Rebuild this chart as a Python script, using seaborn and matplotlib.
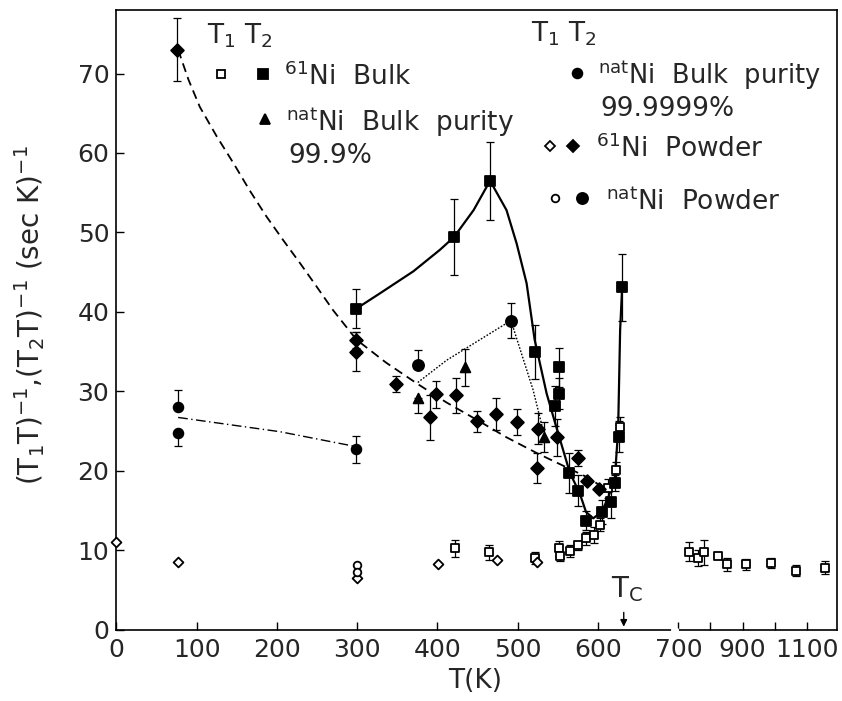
import numpy as np
import pandas as pd
import matplotlib
matplotlib.use("Agg")
import matplotlib.pyplot as plt
import seaborn as sns

# ---------------- data ----------------
# 61Ni bulk, T1 (open squares)
ni61_bulk_t1_T = [421.8, 464.5, 521.3, 551.7, 552.6, 565.0, 574.6, 584.9, 594.9, 602.4,
                  612.3, 621.9, 626.9, 734, 762, 781, 824, 852, 910, 988, 1065, 1158]
ni61_bulk_t1_y = [10.2, 9.7, 9.0, 10.2, 9.2, 9.9, 10.6, 11.5, 11.9, 13.2,
                  17.8, 20.1, 25.5, 9.8, 9.0, 9.7, 9.3, 8.2, 8.2, 8.4, 7.4, 7.8]
ni61_bulk_t1_err = [1.1, 1.0, 0.7, 1.0, 0.6, 0.8, 0.6, 0.8, 1.0, 0.8,
                    1.2, 1.0, 1.2, 1.2, 1.0, 1.6, 0.0, 0.8, 0.7, 0.6, 0.7, 0.8]

# 61Ni bulk, T2 (filled squares)
ni61_bulk_t2_T = [299.0, 420.5, 465.5, 521.3, 551.7, 551.7, 546.3, 564.1, 575.3, 584.9,
                  604.5, 615.7, 621.0, 626.4, 630.0]
ni61_bulk_t2_y = [40.4, 49.4, 56.5, 35.0, 33.0, 29.7, 28.1, 19.7, 17.5, 13.7,
                  14.8, 16.0, 18.4, 24.3, 43.1]
ni61_bulk_t2_err = [2.5, 4.8, 4.9, 3.4, 2.5, 2.0, 2.5, 2.5, 2.0, 1.2,
                    1.5, 2.0, 1.0, 2.0, 4.2]

# natNi bulk purity 99.9 % (filled triangles)
nat_bulk999_T = [375.5, 434.0, 533.0]
nat_bulk999_y = [29.2, 33.0, 24.2]
nat_bulk999_lo = [2.0, 2.3, 1.9]
nat_bulk999_hi = [0.0, 2.3, 1.9]

# natNi bulk purity 99.9999 % (filled circles)
nat_bulk6_T = [77.0, 77.0, 299.0]
nat_bulk6_y = [28.0, 24.8, 22.7]
nat_bulk6_lo = [0.0, 1.7, 1.7]
nat_bulk6_hi = [2.2, 0.0, 1.7]

# 61Ni powder, T1 (open diamonds)
ni61_pow_t1_T = [0.0, 76.4, 300.0, 400.2, 473.7, 524.3]
ni61_pow_t1_y = [11.0, 8.5, 6.5, 8.3, 8.75, 8.5]

# 61Ni powder, T2 (filled diamonds)
ni61_pow_t2_T = [75.2, 298.9, 298.9, 348.7, 391.0, 398.5, 422.6, 449.6, 472.5, 498.6,
                 523.5, 524.8, 548.4, 574.6, 586.2, 601.1]
ni61_pow_t2_y = [73.0, 36.5, 35.0, 30.9, 26.7, 29.6, 29.5, 26.2, 27.1, 26.1,
                 20.3, 25.3, 24.2, 21.6, 18.7, 17.7]
ni61_pow_t2_err = [4.0, 1.0, 2.5, 1.0, 2.8, 1.7, 2.2, 1.3, 2.0, 1.6,
                   1.9, 2.0, 2.3, 1.0, 0.0, 0.0]

# natNi powder, T1 (open circles) and T2 (filled circles)
nat_pow_t1_T = [300.0, 300.0]
nat_pow_t1_y = [8.1, 7.3]
nat_pow_t2_T = [375.5, 491.5]
nat_pow_t2_y = [33.3, 38.9]
nat_pow_t2_lo = [0.0, 2.2]
nat_pow_t2_hi = [1.9, 2.2]

# hand-drawn guide curves
guide_dashed_T = [77, 90, 104, 125, 146, 166, 187, 208, 229, 250, 270, 299, 336, 374,
                  411, 449, 486, 524, 557, 590, 604]
guide_dashed_y = [73.0, 69.2, 65.8, 62.1, 58.7, 55.3, 52.0, 49.0, 46.1, 43.1, 40.2, 36.5,
                  33.6, 31.0, 28.6, 26.4, 24.2, 22.2, 20.6, 19.0, 18.0]
guide_dashdot_T = [77, 204, 300]
guide_dashdot_y = [26.7, 24.9, 23.0]
guide_solid_T = [299, 328, 370, 403, 420.5, 445, 465.5, 486, 498.6, 511, 521, 536, 548,
                 565, 577, 585, 594, 604.5, 613, 621, 625, 627.5, 630]
guide_solid_y = [40.4, 42.3, 45.1, 47.8, 49.4, 52.8, 56.5, 52.8, 48.6, 43.6, 36.5, 29.7, 25.5,
                 19.7, 17.2, 14.8, 14.0, 14.8, 16.7, 19.2, 25.1, 37.7, 43.1]
guide_dotted_T = [375.5, 411.4, 491.5, 519, 533]
guide_dotted_y = [31.1, 33.9, 38.9, 30.2, 24.5]

T_curie = 632
x_ticks = [0, 100, 200, 300, 400, 500, 600, 700, 800, 900, 1000, 1100]
x_ticklabels = ["0", "100", "200", "300", "400", "500", "600", "700", "", "900", "", "1100"]
y_ticks = [0, 10, 20, 30, 40, 50, 60, 70]

# ---------------- style ----------------
sns.set_theme(style="ticks")
plt.rcParams["font.family"] = ["DejaVu Sans"]
plt.rcParams["mathtext.default"] = "regular"
FS_TICK = 18
FS_LAB = 19
FS_KEY = 19

W, H = 842, 701
fig = plt.figure(figsize=(W / 100, H / 100), dpi=100)
ax = fig.add_axes([116.3 / W, 1 - 629.5 / H, (837 - 116.3) / W, (629.5 - 10) / H])


def fwd(t):
    t = np.asarray(t, dtype=float)
    return np.where(t <= 700, t, 700 + (t - 700) * 0.4)


def inv(u):
    u = np.asarray(u, dtype=float)
    return np.where(u <= 700, u, 700 + (u - 700) / 0.4)


ax.set_xscale("function", functions=(fwd, inv))
ax.set_xlim(0, 1194)
ax.set_ylim(0, 78)


def fx(px):
    return px / W


def fy(py):
    return 1 - py / H


# guide curves
def guide(T, y, ls, lw):
    df = pd.DataFrame({"T": T, "y": y})
    sns.lineplot(data=df, x="T", y="y", sort=False, estimator=None, color="black",
                 linewidth=lw, ax=ax, zorder=1)
    ln = ax.lines[-1]
    ln.set_linestyle(ls)


guide(guide_dashed_T, guide_dashed_y, (0, (5, 3)), 1.3)
guide(guide_dashdot_T, guide_dashdot_y, (0, (7, 2.5, 1, 2.5)), 1.0)
guide(guide_solid_T, guide_solid_y, "-", 1.6)
guide(guide_dotted_T, guide_dotted_y, (0, (1.2, 1.2)), 1.0)

# error bars
eb = dict(fmt="none", ecolor="black", elinewidth=0.9, capsize=3, capthick=0.9, zorder=2)
ax.errorbar(ni61_bulk_t1_T, ni61_bulk_t1_y, yerr=ni61_bulk_t1_err, **eb)
ax.errorbar(ni61_bulk_t2_T, ni61_bulk_t2_y, yerr=ni61_bulk_t2_err, **eb)
ax.errorbar(nat_bulk999_T, nat_bulk999_y, yerr=[nat_bulk999_lo, nat_bulk999_hi], **eb)
ax.errorbar(nat_bulk6_T, nat_bulk6_y, yerr=[nat_bulk6_lo, nat_bulk6_hi], **eb)
ax.errorbar(ni61_pow_t2_T, ni61_pow_t2_y, yerr=ni61_pow_t2_err, **eb)
ax.errorbar(nat_pow_t2_T, nat_pow_t2_y, yerr=[nat_pow_t2_lo, nat_pow_t2_hi], **eb)


def pts(T, y, marker, size, face):
    df = pd.DataFrame({"T": T, "y": y})
    sns.scatterplot(data=df, x="T", y="y", marker=marker, s=size ** 2, color=face,
                    edgecolor="black", linewidth=1.3, ax=ax, zorder=4, legend=False,
                    clip_on=False)


pts(ni61_bulk_t1_T, ni61_bulk_t1_y, "s", 5.5, "white")
pts(ni61_bulk_t2_T, ni61_bulk_t2_y, "s", 6.5, "black")
pts(nat_bulk999_T, nat_bulk999_y, "^", 7, "black")
pts(nat_bulk6_T, nat_bulk6_y, "o", 7, "black")
pts(ni61_pow_t1_T, ni61_pow_t1_y, "D", 5, "white")
pts(ni61_pow_t2_T, ni61_pow_t2_y, "D", 6.5, "black")
pts(nat_pow_t1_T, nat_pow_t1_y, "o", 5.5, "white")
pts(nat_pow_t2_T, nat_pow_t2_y, "o", 8, "black")

# axes styling
ax.set_xticks(x_ticks)
ax.set_xticklabels(x_ticklabels)
ax.set_yticks(y_ticks)
ax.minorticks_off()
ax.tick_params(direction="in", length=6, width=1.0, labelsize=FS_TICK, color="black")
ax.tick_params(axis="x", pad=6)
ax.tick_params(axis="y", pad=5)
for s in ax.spines.values():
    s.set_linewidth(1.2)
    s.set_color("black")
ax.set_xlabel("")
ax.set_ylabel("")
# small break in the x axis between the two scales
ax.plot([693, 698.3], [0, 0], color="white", lw=3, clip_on=False, zorder=6)

fig.text(fx(475), fy(681), "T(K)", fontsize=FS_LAB, ha="center", va="center")
fig.text(fx(30), fy(315), r"$(T_1T)^{-1}$,$(T_2T)^{-1}$ (sec K)$^{-1}$",
         fontsize=FS_LAB + 1, rotation=90, ha="center", va="center")

# Curie temperature marker
ax.annotate("", xy=(T_curie, 0), xytext=(T_curie, 2.5),
            arrowprops=dict(arrowstyle="-|>", color="black", lw=1.0, mutation_scale=10))
ax.text(616, 4.1, r"T$_C$", fontsize=FS_LAB + 1, ha="left", va="baseline")

# ---------------- key (hand-lettered legend) ----------------
def key_marker(px, py, marker, ms, face):
    fig.add_artist(plt.Line2D([fx(px)], [fy(py)], marker=marker, markersize=ms,
                              markerfacecolor=face, markeredgecolor="black",
                              markeredgewidth=1.3, linestyle="none",
                              transform=fig.transFigure))


def key_text(px, py, s, fs=FS_KEY):
    fig.text(fx(px), fy(py), s, fontsize=fs, ha="left", va="baseline")


key_text(207, 44, r"T$_1$ T$_2$")
key_marker(221, 74, "s", 5.5, "white")
key_marker(263, 74, "s", 6.5, "black")
key_text(284, 85, r"$^{61}$Ni  Bulk")
key_marker(265, 119, "^", 7, "black")
key_text(286, 131, r"$^{nat}$Ni  Bulk  purity")
key_text(288, 163, "99.9%")

key_text(531, 42, r"T$_1$ T$_2$")
key_marker(577, 73, "o", 7, "black")
key_text(598, 84, r"$^{nat}$Ni  Bulk  purity", fs=18.5)
key_text(600, 116, "99.9999%")
key_marker(550, 146, "D", 5, "white")
key_marker(573, 146, "D", 6.5, "black")
key_text(596, 157, r"$^{61}$Ni  Powder")
key_marker(555, 198, "o", 5.5, "white")
key_marker(582, 198, "o", 8, "black")
key_text(606, 210, r"$^{nat}$Ni  Powder")

fig.savefig("out.png", dpi=100, facecolor="white")
